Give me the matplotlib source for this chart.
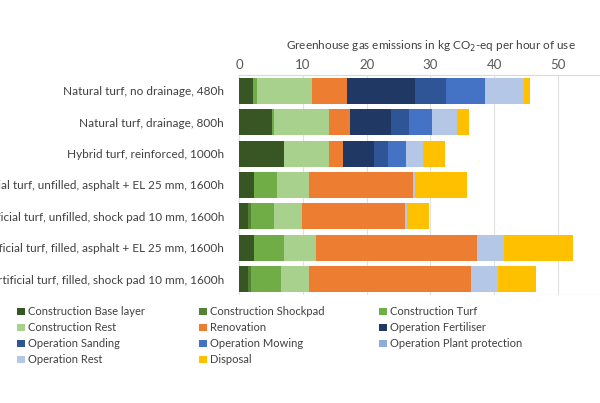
import numpy as np
import matplotlib
matplotlib.use('Agg')
import matplotlib.pyplot as plt

plt.rcParams['font.family'] = ['Lato', 'DejaVu Sans']

# categories (top to bottom)
systems = ['Natural turf, no drainage, 480h',
           'Natural turf, drainage, 800h',
           'Hybrid turf, reinforced, 1000h',
           'Artificial turf, unfilled, asphalt + EL 25 mm, 1600h',
           'Artificial turf, unfilled, shock pad 10 mm, 1600h',
           'Artificial turf, filled, asphalt + EL 25 mm, 1600h',
           'Artificial turf, filled, shock pad 10 mm, 1600h']

# kg CO2-eq per hour of use
constr_base = [2.2, 5.1, 7.0, 2.3, 1.4, 2.3, 1.3]
constr_shockpad = [0.0, 0.0, 0.0, 0.0, 0.5, 0.0, 0.5]
constr_turf = [0.6, 0.4, 0.0, 3.6, 3.6, 4.7, 4.8]
constr_rest = [8.6, 8.5, 7.1, 5.1, 4.3, 5.0, 4.4]
renovation = [5.5, 3.3, 2.2, 16.2, 16.2, 25.3, 25.3]
op_fertiliser = [10.7, 6.5, 4.8, 0.0, 0.0, 0.0, 0.0]
op_sanding = [4.8, 2.8, 2.2, 0.0, 0.0, 0.0, 0.0]
op_mowing = [6.2, 3.7, 2.8, 0.0, 0.0, 0.0, 0.0]
op_plant = [0.0, 0.0, 0.0, 0.0, 0.0, 0.0, 0.0]
op_rest = [6.1, 3.8, 2.8, 0.3, 0.3, 4.2, 4.3]
disposal = [0.9, 1.9, 3.4, 8.3, 3.5, 10.9, 5.9]

series = [('Construction Base layer', constr_base, '#375623'),
          ('Construction Shockpad', constr_shockpad, '#548235'),
          ('Construction Turf', constr_turf, '#70AD47'),
          ('Construction Rest', constr_rest, '#A9D18E'),
          ('Renovation', renovation, '#ED7D31'),
          ('Operation Fertiliser', op_fertiliser, '#1F3864'),
          ('Operation Sanding', op_sanding, '#2F5597'),
          ('Operation Mowing', op_mowing, '#4472C4'),
          ('Operation Plant protection', op_plant, '#8FAADC'),
          ('Operation Rest', op_rest, '#B4C7E7'),
          ('Disposal', disposal, '#FFC000')]

fig = plt.figure(figsize=(6.0, 4.03), dpi=100)
ax = fig.add_axes([0.3988, 0.268, 0.6012, 0.5459])

y = np.arange(len(systems))
left = np.zeros(len(systems))
handles = {}
for name, vals, col in series:
    vals = np.array(vals)
    b = ax.barh(y, vals, left=left, height=0.83, color=col, label=name, zorder=3)
    handles[name] = b
    left += vals

ax.set_xlim(0, 56.6)
ax.set_ylim(len(systems) - 0.5, -0.5)
ax.set_yticks(y)
ax.set_yticklabels(systems, fontsize=8.5, color='#404040')
ax.xaxis.tick_top()
ax.xaxis.set_label_position('top')
ax.set_xticks([0, 10, 20, 30, 40, 50])
ax.tick_params(axis='x', labelsize=9.5, colors='#595959', length=0, pad=3)
ax.tick_params(axis='y', length=0, pad=11)
ax.set_xlabel('Greenhouse gas emissions in kg CO$_2$-eq per hour of use',
              fontsize=8.5, color='#404040')
ax.xaxis.set_label_coords(0.53, 1.115)
ax.grid(axis='x', color='#e0e0e0', linewidth=0.8, zorder=0)
for s in ['right', 'bottom', 'left']:
    ax.spines[s].set_visible(False)
ax.spines['top'].set_color('#d9d9d9')
ax.axvline(0, color='#d9d9d9', linewidth=0.8, zorder=1)
ax.axhline(len(systems) - 0.5, color='#d9d9d9', linewidth=0.8, zorder=1)

# legend is filled column-wise, so reorder to get the row-wise look
order = ['Construction Base layer', 'Construction Rest', 'Operation Sanding', 'Operation Rest',
         'Construction Shockpad', 'Renovation', 'Operation Mowing', 'Disposal',
         'Construction Turf', 'Operation Fertiliser', 'Operation Plant protection']
leg = fig.legend([handles[n] for n in order], order, ncol=3, loc='upper left',
                 bbox_to_anchor=(0.028, 0.24), frameon=False, fontsize=8,
                 handlelength=0.7, handleheight=0.7, handletextpad=0.3,
                 columnspacing=4.9, labelspacing=0.45, borderaxespad=0, borderpad=0)
for t in leg.get_texts():
    t.set_color('#404040')

fig.savefig('out.png', dpi=100)
